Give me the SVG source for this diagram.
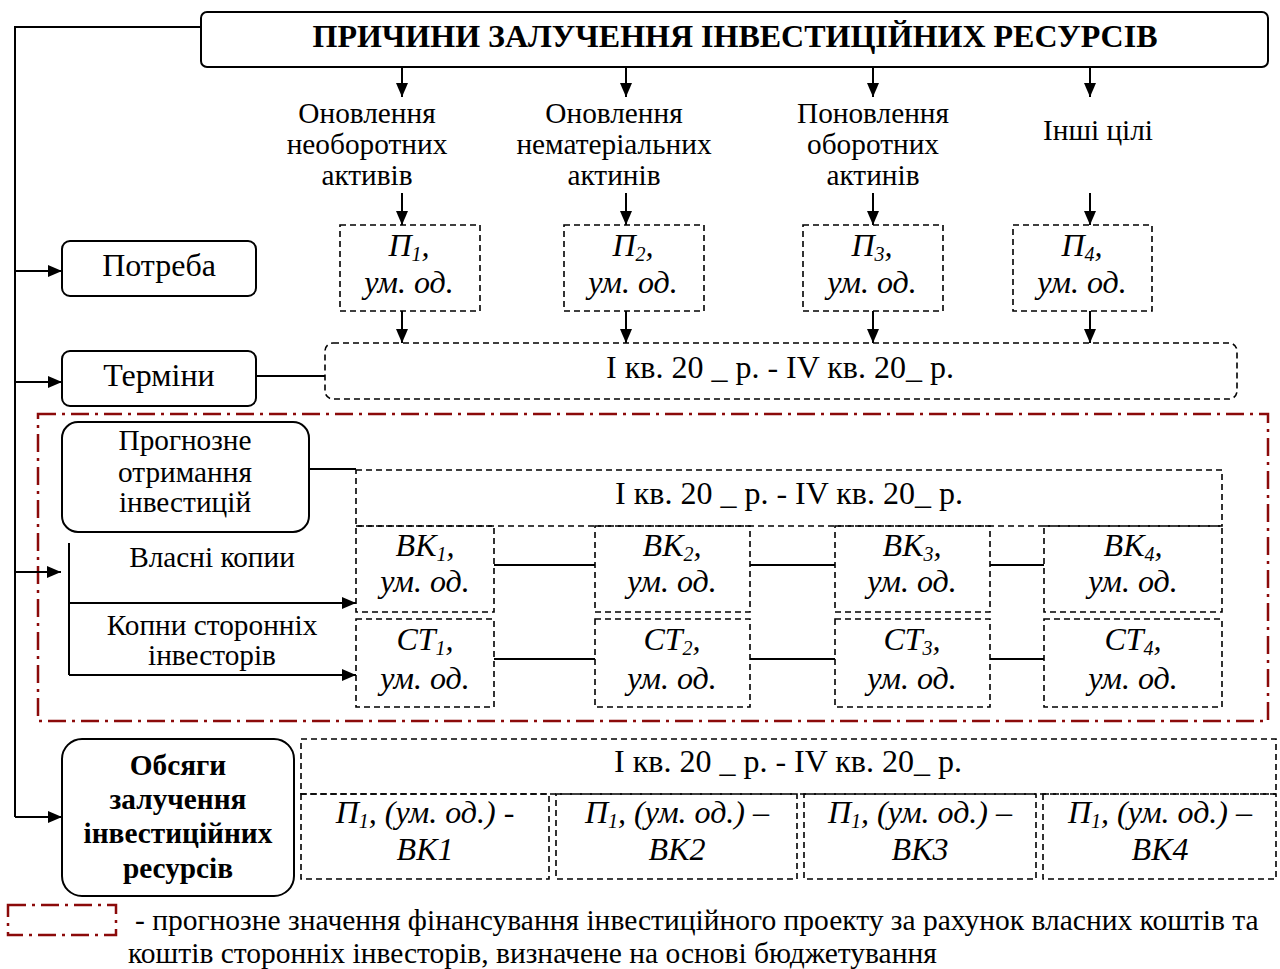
<svg xmlns="http://www.w3.org/2000/svg" width="1280" height="969" viewBox="0 0 1280 969">
<style>
text{font-family:"Liberation Serif","Times New Roman",serif;fill:#000}
.t{font-size:29.3px;text-anchor:middle}
.t2{font-size:32px;text-anchor:middle}
.i{font-size:32px;font-style:italic;text-anchor:middle}
.b{font-size:29.3px;font-weight:bold;text-anchor:middle}
.sub{font-size:20px}
.box{fill:#fff;stroke:#000;stroke-width:2}
.dash{fill:none;stroke:#000;stroke-width:1.6;stroke-dasharray:6,4}
.red{fill:none;stroke:#8b0a0a;stroke-width:2.5;stroke-dasharray:18,6,3,6}
.ln{fill:none;stroke:#000;stroke-width:2}
.ar{fill:none;stroke:#000;stroke-width:2;marker-end:url(#ah)}
</style>
<defs>
<marker id="ah" viewBox="0 0 14 12" refX="14" refY="6" markerWidth="14" markerHeight="12" markerUnits="userSpaceOnUse" orient="auto">
<path d="M0,0 L14,6 L0,12 Z" fill="#000"/>
</marker>
</defs>
<rect width="1280" height="969" fill="#fff"/>

<g id="red-frame"><rect class="red" x="38" y="414" width="1230" height="307"/></g>

<g id="connectors">
<polyline class="ln" points="201,27 15,27 15,817"/>
<line class="ar" x1="15" y1="271" x2="62" y2="271"/>
<line class="ar" x1="15" y1="382" x2="62" y2="382"/>
<line class="ar" x1="15" y1="572" x2="61" y2="572"/>
<line class="ar" x1="15" y1="817" x2="62" y2="817"/>
<line class="ar" x1="402" y1="67" x2="402" y2="97"/>
<line class="ar" x1="626" y1="67" x2="626" y2="97"/>
<line class="ar" x1="873" y1="67" x2="873" y2="97"/>
<line class="ar" x1="1090" y1="67" x2="1090" y2="97"/>
<line class="ar" x1="402" y1="193" x2="402" y2="225"/>
<line class="ar" x1="626" y1="193" x2="626" y2="225"/>
<line class="ar" x1="873" y1="193" x2="873" y2="225"/>
<line class="ar" x1="1090" y1="193" x2="1090" y2="225"/>
<line class="ar" x1="402" y1="311" x2="402" y2="343"/>
<line class="ar" x1="626" y1="311" x2="626" y2="343"/>
<line class="ar" x1="873" y1="311" x2="873" y2="343"/>
<line class="ar" x1="1090" y1="311" x2="1090" y2="343"/>
<line class="ln" x1="256" y1="376" x2="325" y2="376"/>
<line class="ln" x1="309" y1="469" x2="356" y2="469"/>
<polyline class="ln" points="69,543 69,675"/>
<line class="ar" x1="69" y1="603" x2="356" y2="603"/>
<line class="ar" x1="69" y1="675" x2="356" y2="675"/>
<line class="ln" x1="494" y1="565" x2="595" y2="565"/>
<line class="ln" x1="750" y1="565" x2="835" y2="565"/>
<line class="ln" x1="990" y1="565" x2="1044" y2="565"/>
<line class="ln" x1="494" y1="659" x2="595" y2="659"/>
<line class="ln" x1="750" y1="659" x2="835" y2="659"/>
<line class="ln" x1="990" y1="659" x2="1044" y2="659"/>
</g>

<g id="title"><rect class="box" x="201" y="12" width="1067" height="55" rx="6"/>
<text x="735" y="47" font-size="32" font-weight="bold" text-anchor="middle">ПРИЧИНИ ЗАЛУЧЕННЯ ІНВЕСТИЦІЙНИХ РЕСУРСІВ</text></g>

<g id="goal1"><text class="t" x="367" y="123">Оновлення</text><text class="t" x="367" y="154">необоротних</text><text class="t" x="367" y="185">активів</text></g>
<g id="goal2"><text class="t" x="614" y="123">Оновлення</text><text class="t" x="614" y="154">нематеріальних</text><text class="t" x="614" y="185">актинів</text></g>
<g id="goal3"><text class="t" x="873" y="123">Поновлення</text><text class="t" x="873" y="154">оборотних</text><text class="t" x="873" y="185">актинів</text></g>
<g id="goal4"><text class="t" x="1098" y="140">Інші цілі</text></g>

<g id="p1"><rect class="dash" x="340" y="225" width="140" height="86"/><text class="i" x="409" y="256">П<tspan class="sub" dy="5">1</tspan><tspan dy="-5">,</tspan></text><text class="i" x="409" y="293">ум. од.</text></g>
<g id="p2"><rect class="dash" x="564" y="225" width="140" height="86"/><text class="i" x="633" y="256">П<tspan class="sub" dy="5">2</tspan><tspan dy="-5">,</tspan></text><text class="i" x="633" y="293">ум. од.</text></g>
<g id="p3"><rect class="dash" x="803" y="225" width="140" height="86"/><text class="i" x="872" y="256">П<tspan class="sub" dy="5">3</tspan><tspan dy="-5">,</tspan></text><text class="i" x="872" y="293">ум. од.</text></g>
<g id="p4"><rect class="dash" x="1013" y="225" width="139" height="86"/><text class="i" x="1082" y="256">П<tspan class="sub" dy="5">4</tspan><tspan dy="-5">,</tspan></text><text class="i" x="1082" y="293">ум. од.</text></g>

<g id="potreba"><rect class="box" x="62" y="241" width="194" height="55" rx="8"/><text class="t2" x="159" y="276">Потреба</text></g>
<g id="terminy"><rect class="box" x="62" y="351" width="194" height="55" rx="8"/><text class="t2" x="159" y="386">Терміни</text></g>
<g id="terms-period"><rect class="dash" x="325" y="343" width="912" height="56" rx="8"/><text class="t2" x="780" y="378">І кв. 20 _ р. - IV кв. 20_ р.</text></g>

<g id="prognoz"><rect class="box" x="62" y="422" width="247" height="110" rx="16"/><text class="t" x="185" y="450">Прогнозне</text><text class="t" x="185" y="482">отримання</text><text class="t" x="185" y="512">інвестицій</text></g>
<g id="own-label"><text class="t" x="212" y="567" font-size="29.7">Власні копии</text></g>
<g id="third-label"><text class="t" x="212" y="635" font-size="29.7">Копни сторонніх</text><text class="t" x="212" y="665" font-size="29.7">інвесторів</text></g>
<g id="forecast-period"><rect class="dash" x="356" y="470" width="866" height="56"/><text class="t2" x="789" y="504">І кв. 20 _ р. - IV кв. 20_ р.</text></g>

<g id="vk1"><rect class="dash" x="356" y="526" width="138" height="86"/><text class="i" x="425" y="556">ВК<tspan class="sub" dy="5">1</tspan><tspan dy="-5">,</tspan></text><text class="i" x="425" y="592">ум. од.</text></g>
<g id="vk2"><rect class="dash" x="595" y="526" width="155" height="86"/><text class="i" x="672" y="556">ВК<tspan class="sub" dy="5">2</tspan><tspan dy="-5">,</tspan></text><text class="i" x="672" y="592">ум. од.</text></g>
<g id="vk3"><rect class="dash" x="835" y="526" width="155" height="86"/><text class="i" x="912" y="556">ВК<tspan class="sub" dy="5">3</tspan><tspan dy="-5">,</tspan></text><text class="i" x="912" y="592">ум. од.</text></g>
<g id="vk4"><rect class="dash" x="1044" y="526" width="178" height="86"/><text class="i" x="1133" y="556">ВК<tspan class="sub" dy="5">4</tspan><tspan dy="-5">,</tspan></text><text class="i" x="1133" y="592">ум. од.</text></g>

<g id="st1"><rect class="dash" x="356" y="619" width="138" height="88"/><text class="i" x="425" y="650">СТ<tspan class="sub" dy="5">1</tspan><tspan dy="-5">,</tspan></text><text class="i" x="425" y="689">ум. од.</text></g>
<g id="st2"><rect class="dash" x="595" y="619" width="155" height="88"/><text class="i" x="672" y="650">СТ<tspan class="sub" dy="5">2</tspan><tspan dy="-5">,</tspan></text><text class="i" x="672" y="689">ум. од.</text></g>
<g id="st3"><rect class="dash" x="835" y="619" width="155" height="88"/><text class="i" x="912" y="650">СТ<tspan class="sub" dy="5">3</tspan><tspan dy="-5">,</tspan></text><text class="i" x="912" y="689">ум. од.</text></g>
<g id="st4"><rect class="dash" x="1044" y="619" width="178" height="88"/><text class="i" x="1133" y="650">СТ<tspan class="sub" dy="5">4</tspan><tspan dy="-5">,</tspan></text><text class="i" x="1133" y="689">ум. од.</text></g>

<g id="obsyagy"><rect class="box" x="62" y="739" width="232" height="157" rx="20"/><text class="b" x="178" y="775">Обсяги</text><text class="b" x="178" y="809">залучення</text><text class="b" x="178" y="843">інвестиційних</text><text class="b" x="178" y="878">ресурсів</text></g>
<g id="volume-period"><rect class="dash" x="301" y="739" width="975" height="55"/><text class="t2" x="788" y="772">І кв. 20 _ р. - IV кв. 20_ р.</text></g>
<g id="v1"><rect class="dash" x="301" y="794" width="248" height="85"/><text class="i" x="425" y="823">П<tspan class="sub" dy="5">1</tspan><tspan dy="-5">, (ум. од.) -</tspan></text><text class="i" x="425" y="860">ВК1</text></g>
<g id="v2"><rect class="dash" x="556" y="794" width="241" height="85"/><text class="i" x="677" y="823">П<tspan class="sub" dy="5">1</tspan><tspan dy="-5">, (ум. од.) –</tspan></text><text class="i" x="677" y="860">ВК2</text></g>
<g id="v3"><rect class="dash" x="804" y="794" width="232" height="85"/><text class="i" x="920" y="823">П<tspan class="sub" dy="5">1</tspan><tspan dy="-5">, (ум. од.) –</tspan></text><text class="i" x="920" y="860">ВК3</text></g>
<g id="v4"><rect class="dash" x="1043" y="794" width="233" height="85"/><text class="i" x="1160" y="823">П<tspan class="sub" dy="5">1</tspan><tspan dy="-5">, (ум. од.) –</tspan></text><text class="i" x="1160" y="860">ВК4</text></g>

<g id="legend"><rect class="red" x="8" y="905" width="108" height="30" stroke-width="2"/>
<text x="135" y="930" font-size="29.5">- прогнозне значення фінансування інвестиційного проекту за рахунок власних коштів та</text>
<text x="128" y="963" font-size="29.5">коштів сторонніх інвесторів, визначене на основі бюджетування</text></g>
</svg>
